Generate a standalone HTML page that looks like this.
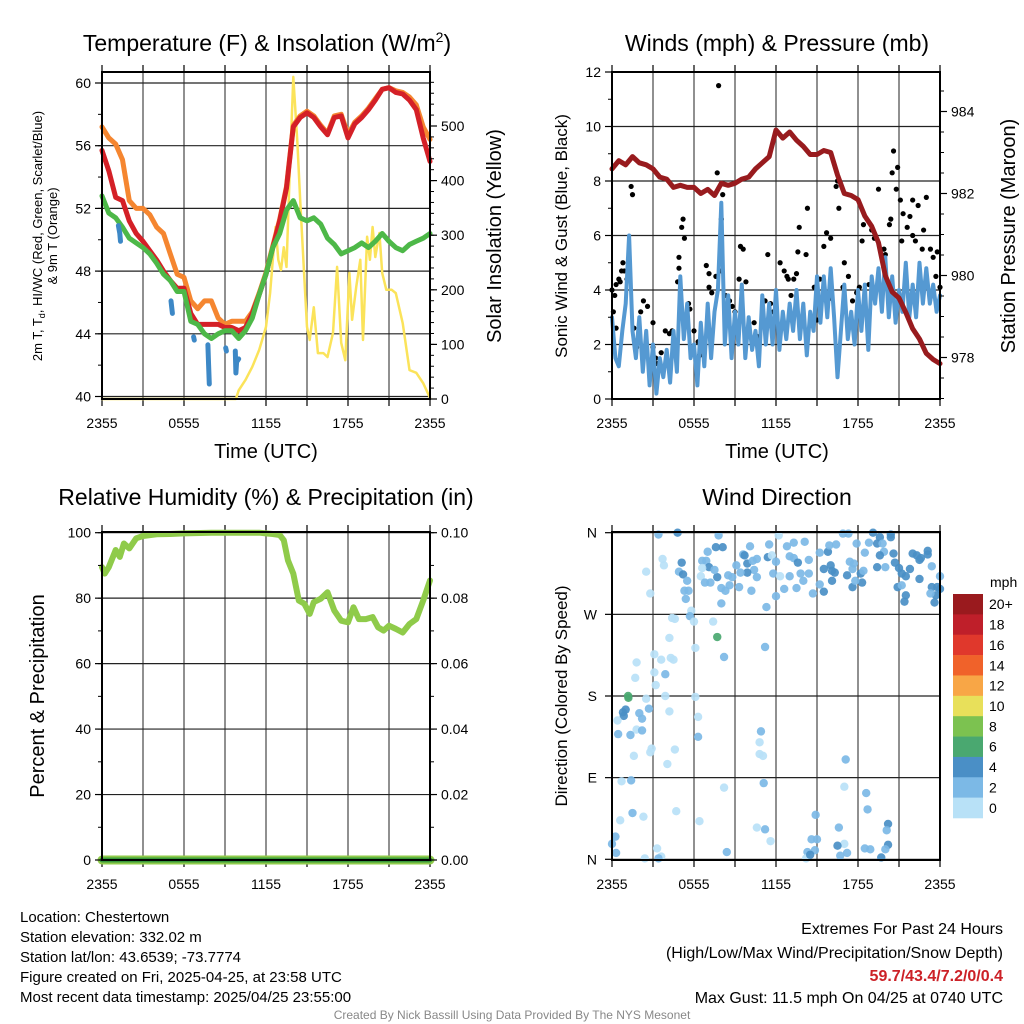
<!DOCTYPE html>
<html><head><meta charset="utf-8">
<style>
html,body{margin:0;padding:0;background:#fff;}
svg{display:block;font-family:"Liberation Sans",Arial,sans-serif;}
</style></head>
<body>
<svg id="chart" width="1024" height="1024" viewBox="0 0 1024 1024" xmlns="http://www.w3.org/2000/svg">
<rect x="0" y="0" width="1024" height="1024" fill="#fff"/>
<g id="layer"></g>
<!-- titles -->
<text x="267" y="51" font-size="23" text-anchor="middle">Temperature (F) &amp; Insolation (W/m<tspan font-size="14" dy="-9">2</tspan><tspan dy="9">)</tspan></text>
<text x="777" y="51" font-size="23" text-anchor="middle">Winds (mph) &amp; Pressure (mb)</text>
<text x="266" y="505" font-size="23" text-anchor="middle">Relative Humidity (%) &amp; Precipitation (in)</text>
<text x="777" y="505" font-size="23" text-anchor="middle">Wind Direction</text>
<!-- axis titles -->
<text x="266" y="458" font-size="20" text-anchor="middle">Time (UTC)</text>
<text x="777" y="458" font-size="20" text-anchor="middle">Time (UTC)</text>
<text transform="translate(42,236) rotate(-90)" font-size="13" text-anchor="middle">2m T, T<tspan font-size="9" dy="3">d</tspan><tspan dy="-3">, HI/WC (Red, Green, Scarlet/Blue)</tspan></text>
<text transform="translate(57,236) rotate(-90)" font-size="13" text-anchor="middle">&amp; 9m T (Orange)</text>
<text transform="translate(501,236) rotate(-90)" font-size="20" text-anchor="middle">Solar Insolation (Yellow)</text>
<text transform="translate(567,236) rotate(-90)" font-size="17" text-anchor="middle">Sonic Wind &amp; Gust (Blue, Black)</text>
<text transform="translate(1015,236) rotate(-90)" font-size="20" text-anchor="middle">Station Pressure (Maroon)</text>
<text transform="translate(44,696) rotate(-90)" font-size="20" text-anchor="middle">Percent &amp; Precipitation</text>
<text transform="translate(567,696) rotate(-90)" font-size="17" text-anchor="middle">Direction (Colored By Speed)</text>
<!-- footer -->
<g font-size="15">
<text x="20" y="922">Location: Chestertown</text>
<text x="20" y="942">Station elevation: 332.02 m</text>
<text x="20" y="962">Station lat/lon: 43.6539; -73.7774</text>
<text x="20" y="982">Figure created on Fri, 2025-04-25, at 23:58 UTC</text>
<text x="20" y="1002">Most recent data timestamp: 2025/04/25 23:55:00</text>
</g>
<g font-size="16" text-anchor="end">
<text x="1003" y="934">Extremes For Past 24 Hours</text>
<text x="1003" y="958">(High/Low/Max Wind/Precipitation/Snow Depth)</text>
<text x="1003" y="981" fill="#cc2127" font-weight="bold">59.7/43.4/7.2/0/0.4</text>
<text x="1003" y="1003">Max Gust: 11.5 mph On 04/25 at 0740 UTC</text>
</g>
<text x="512" y="1019" font-size="12" fill="#888" text-anchor="middle">Created By Nick Bassill Using Data Provided By The NYS Mesonet</text>
</svg>
<script>
// ===== Temperature panel data (hours since 2355 UTC, half-hourly) =====
const tempHours = [0,0.5,1,1.5,2,2.5,3,3.5,4,4.5,5,5.5,6,6.5,7,7.5,8,8.5,9,9.5,10,10.5,11,11.5,12,12.5,13,13.5,14,14.5,15,15.5,16,16.5,17,17.5,18,18.5,19,19.5,20,20.5,21,21.5,22,22.5,23,23.5,24];
const temp2m = [55.7,54.4,52.7,52.5,51.2,50.4,49.9,49.3,48.7,48.0,47.4,46.9,46.9,45.3,44.6,44.6,44.6,44.6,44.4,44.4,44.2,44.4,45.3,46.5,47.8,49.5,51.2,53.3,57.2,57.8,58.1,57.8,57.2,56.7,57.8,57.9,56.5,57.4,57.8,58.3,58.9,59.6,59.7,59.4,59.3,58.9,58.3,56.5,55.0];
const temp9m = [57.2,56.5,56.1,55.1,52.5,52.0,52.0,51.6,50.8,50.4,49.1,47.8,47.6,46.1,45.6,46.1,46.1,45.0,44.6,44.8,44.8,44.8,45.4,46.6,47.9,49.6,51.3,53.4,57.3,57.9,58.2,57.9,57.3,56.8,57.9,58.0,56.7,57.5,57.9,58.4,59.0,59.6,59.7,59.5,59.4,59.1,58.6,57.2,56.4];
const dewpoint = [52.8,51.7,51.4,50.8,50.1,49.8,49.5,49.1,48.5,47.8,47.4,46.7,46.7,44.8,44.6,44.0,43.7,44.0,44.2,44.2,43.7,44.2,45.0,46.5,47.8,49.5,50.4,51.9,52.5,51.4,51.2,51.4,51.0,50.1,49.7,49.1,49.3,49.5,49.8,49.5,49.9,50.4,49.9,49.5,49.3,49.7,49.9,50.1,50.4];
const chillHours = [1.2,1.3,1.35, 5.05,5.1,5.15, 6.7,6.75, 7.75,7.8,7.85, 9.05,9.1, 9.75,9.8,9.85,10.0];
const chillTemps = [50.9,50.4,49.9, 46.1,45.7,45.3, 43.8,43.6, 43.3,42.0,40.8, 43.1,42.9, 42.9,41.5,42.2,42.4];
const chillSegs = [3,3,2,3,2,4];
const solarHours = [0,9.8,10,10.5,11,11.5,12,12.3,12.5,12.7,12.9,13.1,13.3,13.5,13.7,14,14.3,14.5,14.8,15,15.2,15.5,15.8,16.2,16.5,16.9,17.2,17.5,17.8,18.1,18.3,18.6,18.9,19.1,19.4,19.6,19.8,20,20.3,20.5,20.8,21.2,21.5,22,22.5,23,23.5,24];
const solarVals = [0,0,16,35,59,90,132,194,255,315,255,236,278,242,388,590,469,364,223,132,108,168,84,84,77,121,242,103,71,231,145,205,255,108,297,255,315,260,304,231,200,200,194,139,53,48,29,2];
const tempTicks = [40,44,48,52,56,60];
const solarTicks = [0,100,200,300,400,500];
const timeTickLabels = ["2355","0555","1155","1755","2355"];

// ===== Wind panel data =====
const windHours = [];
for (let i=0;i<=96;i++) windHours.push(i/4);
const windSpeed = [3.0,1.5,1.2,2.5, 3.5,6.0,2.5,1.5, 3.0,1.0,2.5,0.5, 2.0,0.2,1.5,0.8, 1.8,0.6,2.5,1.0, 4.5,2.2,3.5,1.5, 2.0,0.5,2.8,1.2, 3.5,1.5,3.2,4.0, 7.2,2.0,3.8,1.5, 3.2,2.0,4.2,1.5, 3.0,1.8,2.5,1.2, 3.8,2.0,3.5,2.0, 4.0,1.8,3.2,2.2, 3.5,2.5,4.0,2.2, 3.5,1.6,3.2,2.5, 4.5,2.8,4.5,3.0, 4.8,3.0,0.8,2.5, 4.2,2.2,3.2,2.0, 4.0,2.5,4.2,1.8, 4.5,3.5,4.8,3.2, 5.2,3.0,4.5,2.8, 4.0,3.2,5.0,3.0, 4.2,3.0,5.0,3.5, 4.8,3.5,4.2,3.2, 3.8];
const gustHours = [0.0,0.1,0.2,0.3,0.3,0.5,0.6,0.7,0.8,0.9,1.1,1.5,1.4,1.6,1.8,2.0,2.1,2.3,2.6,3.0,3.0,3.2,3.3,3.6,3.9,4.2,4.4,4.9,4.9,5.2,5.1,5.3,4.8,5.6,5.7,6.0,6.3,6.4,6.6,6.9,7.1,7.1,7.3,7.6,7.7,7.8,8.0,8.1,8.0,8.3,8.6,8.8,9.0,9.3,9.4,9.6,9.8,10.4,10.6,11.2,11.4,11.6,11.8,12.3,12.6,12.8,12.9,13.1,13.3,13.5,13.7,13.6,14.2,14.3,14.8,15.0,15.2,15.5,15.7,16.0,16.0,16.4,16.5,16.6,16.9,17.0,17.3,17.6,17.9,18.1,18.3,18.4,18.8,19.0,19.2,19.5,19.9,20.0,20.3,20.4,20.5,20.6,20.8,20.9,21.1,21.3,21.6,21.8,22.0,22.0,22.4,22.7,22.8,23.0,23.3,23.5,23.7,23.8,24.0,21.2,22.2];
const gustSpeed = [4.0,3.2,3.8,2.6,4.2,4.4,4.3,4.7,5.0,4.7,4.4,7.5,7.8,2.6,1.9,2.4,3.2,3.6,3.4,2.8,1.9,1.5,1.3,1.7,2.5,2.4,2.5,5.2,4.8,6.6,6.3,5.9,4.3,3.5,3.3,2.5,2.1,1.6,2.2,4.9,4.6,4.1,3.9,4.5,8.3,11.5,4.7,7.5,6.6,3.8,3.6,3.4,3.2,4.4,5.6,5.5,4.3,2.8,2.3,3.6,5.3,3.5,3.2,5.0,4.7,4.5,4.4,3.8,4.4,4.6,6.3,5.4,5.3,7.0,4.1,2.9,4.4,5.6,6.1,5.9,3.7,7.8,8.0,7.0,4.1,5.0,4.5,3.6,3.9,4.1,5.8,6.4,4.2,6.2,5.9,7.7,5.5,5.3,6.4,6.6,8.3,9.1,7.7,8.5,7.3,6.8,6.3,6.7,7.3,6.0,7.1,5.5,6.2,7.4,5.5,5.2,4.5,5.4,4.1,5.8,5.8];
const pressHours = tempHours;
const pressure = [982.6,982.8,982.7,982.9,982.75,982.7,982.6,982.4,982.35,982.15,982.2,982.15,982.15,982.0,982.1,981.95,982.25,982.2,982.25,982.35,982.4,982.6,982.75,982.9,983.55,983.35,983.5,983.3,983.15,982.95,982.95,983.05,983.0,982.45,982.0,981.95,981.85,981.45,981.2,980.8,980.0,979.6,979.45,979.1,978.7,978.45,978.1,977.95,977.85];
const windTicks = [0,2,4,6,8,10,12];
const pressTicks = [978,980,982,984];

// ===== Humidity panel data =====
const rhHours = [0,0.2,0.5,1,1.3,1.6,2,2.5,3,4,5,6,8,10,11.5,12,12.5,13,13.3,13.6,14,14.4,14.8,15.2,15.5,16,16.5,17,17.5,18,18.4,18.8,19.3,19.8,20.2,20.6,21,21.5,22,22.5,23,23.5,24];
const rhVals = [89.5,87.5,89.5,94.7,92.6,96.7,95.2,98.3,99.0,99.5,99.6,99.8,100,100,100,99.8,99.6,99.3,97.7,91.6,87.5,79.3,78.3,75.2,78.8,79.8,81.8,76.2,73.1,72.6,77.2,73.6,73.6,74.2,71.1,70.1,71.6,70.6,69.5,72.1,73.6,79.3,85.4];
const precipHours = [0,24];
const precipVals = [0,0];
const rhTicks = [0,20,40,60,80,100];
const precipTicks = ["0.00","0.02","0.04","0.06","0.08","0.10"];

// ===== Wind direction panel data =====
const dirHours = [3.4,4.8,3.7,3.8,2.5,5.1,4.9,5.2,5.5,2.8,5.3,5.6,5.4,7.8,7.6,8.1,7.0,6.6,6.9,7.1,6.6,6.5,6.8,7.2,7.7,7.5,8.0,8.3,8.0,8.6,8.5,8.8,9.1,9.3,9.6,9.7,9.9,10.1,10.3,10.6,10.4,9.9,9.4,10.2,10.6,11.5,11.4,11.7,12.0,11.8,12.2,12.8,13.0,13.3,13.3,13.6,13.8,14.0,14.1,14.4,14.4,13.5,12.6,12.0,11.3,12.3,13.0,15.2,15.8,15.9,16.4,15.5,16.0,16.1,16.3,16.1,15.2,15.5,14.7,16.9,17.3,17.9,17.4,17.7,17.6,17.2,18.2,18.3,17.6,17.8,18.4,18.5,18.8,19.1,19.4,19.6,19.8,19.9,19.6,19.4,20.0,20.4,20.4,20.6,20.7,21.0,21.2,21.8,22.0,22.3,22.5,22.6,23.1,23.1,22.5,21.5,20.9,21.2,21.5,21.4,23.4,24.0,23.4,23.8,24.0,23.7,23.6,23.3,
5.8,5.7,6.0,4.4,4.6,7.4,7.7,4.2,6.1,8.2,11.2,3.1,3.6,4.3,4.5,1.8,3.1,3.9,1.7,3.2,1.2,1.18,2.5,3.9,2.7,1.0,0.8,0.86,2.0,2.2,4.2,6.1,6.3,0.4,1.8,2.2,0.45,1.35,6.3,10.9,10.8,2.9,2.8,4.6,1.6,4.05,10.8,11.05,17.1,0.7,1.4,11.1,8.2,17.0,18.6,18.7,1.5,2.3,4.7,0.6,6.4,14.9,10.6,11.2,16.6,20.2,20.1,0.25,0.0,11.6,14.6,15.0,17.0,16.5,20.2,20.0,18.5,18.9,0.3,3.3,8.4,14.3,14.85,17.2,16.7,2.4,3.6,3.4,14.2,14.5,19.7];
const dirDegrees = [358,360,331,324,317,327,317,314,307,293,296,296,287,357,344,344,339,329,329,322,321,312,305,305,311,319,299,296,282,302,313,311,324,300,336,335,326,345,329,331,319,316,316,296,311,347,333,335,328,315,357,345,334,332,349,327,315,307,350,330,315,299,298,290,278,312,312,338,339,346,347,320,324,318,316,307,303,295,293,359,359,348,328,326,320,313,315,305,300,307,318,338,349,360,348,355,348,339,335,322,322,358,355,337,327,321,315,320,337,335,330,332,336,340,309,312,300,302,291,284,323,312,300,300,298,291,283,293,
274,268,262,266,265,262,245,244,233,223,234,226,220,222,220,217,206,204,200,192,178,180,177,180,166,165,162,158,161,155,163,179,157,153,143,142,138,137,135,141,129,122,118,121,114,105,116,114,110,86,87,84,79,80,73,55,51,47,53,43,42,49,35,33,35,39,32,25,17,20,22,22,17,15,16,11,12,11,7,12,8,8,10,7,4,1,3,1,1,5,2];
const dirSpeeds = [3,5,1,1,1,5,3,5,3,1,3,3,3,3,5,5,3,3,3,5,1,1,3,3,5,3,3,3,3,3,3,3,3,3,3,5,5,3,3,3,3,5,3,3,3,3,5,1,3,3,1,3,3,3,3,5,3,3,3,3,3,3,3,3,3,1,3,3,5,3,3,5,5,5,5,5,3,5,3,3,3,3,3,3,3,5,5,5,5,3,3,3,3,5,5,5,3,3,5,5,3,5,5,5,5,5,5,5,5,5,5,5,5,5,5,5,5,3,5,5,3,3,5,5,5,5,5,3,
1,3,1,1,1,1,7,1,1,3,3,1,1,1,1,1,1,3,1,1,7,7,1,1,3,5,5,5,3,3,1,1,1,1,1,3,3,3,3,3,1,1,1,1,1,1,1,1,3,1,3,3,1,1,3,3,3,1,1,1,1,3,1,3,3,5,3,3,3,1,3,3,1,5,5,3,3,3,3,1,3,3,3,3,3,1,1,3,1,5,5];
const dirTickLabels = ["N","E","S","W","N"];
const speedBinLabels = ["20+","18","16","14","12","10","8","6","4","2","0"];
const speedBinColors = ["#9a1a1e","#bf1f2a","#e0382c","#f0622a","#f8a646","#e8e05a","#7cc250","#4aa870","#4a8fc6","#7cb9e6","#b8e1f7"];

// ===== drawing =====
const NS = "http://www.w3.org/2000/svg";
const layer = document.getElementById("layer");
function mk(tag, attrs, parent) {
  const e = document.createElementNS(NS, tag);
  for (const k in attrs) e.setAttribute(k, attrs[k]);
  (parent || layer).appendChild(e);
  return e;
}
function lin(d0, d1, r0, r1) { return v => r0 + (v - d0) * (r1 - d0 === 0 ? 0 : (r1 - r0) / (d1 - d0)); }

const P1 = {l:102,r:430,t:72,b:399};
const P2 = {l:612,r:940,t:72,b:399};
const P3 = {l:102,r:430,t:532,b:860};
const P4 = {l:612,r:940,t:532,b:860};

function grid(P, name, hTicksPx) {
  const g = mk("g", {});
  
  
  const xs = lin(0, 24, P.l, P.r);
  for (let h = 3; h < 24; h += 3) {
    mk("line", {x1:xs(h), x2:xs(h), y1:P.t, y2:P.b, stroke:"#555", "stroke-width":1.3}, g);
  }
  hTicksPx.forEach(y => mk("line", {x1:P.l, x2:P.r, y1:y, y2:y, stroke:"#222", "stroke-width":1.2}, g));
  // x ticks top and bottom
  for (let h = 0; h <= 24; h += 3) {
    mk("line", {x1:xs(h), x2:xs(h), y1:P.b, y2:P.b+7, stroke:"#000", "stroke-width":1.2}, g);
    mk("line", {x1:xs(h), x2:xs(h), y1:P.t-7, y2:P.t, stroke:"#000", "stroke-width":1.2}, g);
  }
  return g;
}
function frame(P, name) {
  const r = mk("rect", {x:P.l, y:P.t, width:P.r-P.l, height:P.b-P.t, fill:"none", stroke:"#000", "stroke-width":2});
  
  
}
function xLabels(P, name, labels) {
  const xs = lin(0, 24, P.l, P.r);
  labels.forEach((s, i) => {
    const t = mk("text", {x:xs(i*6), y:P.b+29, "font-size":14, "text-anchor":"middle"});
    t.textContent = s;
    
    
  });
}
function yAxis(P, side, ticks, scale, minorStep, minorFrom, minorTo, fmt, name) {
  const x0 = side === "l" ? P.l : P.r;
  const dir = side === "l" ? -1 : 1;
  for (let v = minorFrom; v <= minorTo + 1e-9; v += minorStep) {
    const y = scale(v);
    if (y < P.t - 0.5 || y > P.b + 0.5) continue;
    mk("line", {x1:x0, x2:x0+dir*4, y1:y, y2:y, stroke:"#000", "stroke-width":1});
  }
  ticks.forEach((v, i) => {
    const y = scale(typeof v === "string" ? parseFloat(v) : v);
    mk("line", {x1:x0, x2:x0+dir*7, y1:y, y2:y, stroke:"#000", "stroke-width":1.2});
    const t = mk("text", {x:x0+dir*11, y:y+5, "font-size":14, "text-anchor": side === "l" ? "end" : "start"});
    t.textContent = fmt ? fmt(v) : v;
    
    
  });
}
function path(xsArr, ysArr, sx, sy, attrs, name) {
  let d = "";
  xsArr.forEach((h, i) => { d += (i ? "L" : "M") + sx(h).toFixed(1) + "," + sy(ysArr[i]).toFixed(1); });
  const p = mk("path", Object.assign({d:d, fill:"none", "stroke-linejoin":"round", "stroke-linecap":"round"}, attrs));
  
  
  return p;
}

// ---- Panel 1 ----
{
  const P = P1;
  const sx = lin(0, 24, P.l, P.r);
  const sy = lin(40, 60, 396.5, 83);
  const ss = lin(0, 500, 399, 126);
  grid(P, "temperature", tempTicks.map(sy));
  path(solarHours, solarVals, sx, ss, {stroke:"#fbe35a", "stroke-width":2.5}, "solar-insolation-line");
  path(tempHours, temp9m, sx, sy, {stroke:"#f58630", "stroke-width":5}, "temperature-9m-line");
  path(tempHours, temp2m, sx, sy, {stroke:"#d42027", "stroke-width":5}, "temperature-2m-line");
  path(tempHours, dewpoint, sx, sy, {stroke:"#4db848", "stroke-width":5}, "dewpoint-line");
  let k = 0;
  chillSegs.forEach((n, si) => {
    path(chillHours.slice(k, k+n), chillTemps.slice(k, k+n), sx, sy, {stroke:"#3d88c6", "stroke-width":5}, "wind-chill-segment");
    k += n;
  });
  frame(P, "temperature");
  yAxis(P, "l", tempTicks, sy, 2, 40, 60, null, "temperature-y");
  yAxis(P, "r", solarTicks, ss, 20, 0, 600, null, "solar-y");
  xLabels(P, "temperature", timeTickLabels);
}
// ---- Panel 2 ----
{
  const P = P2;
  const sx = lin(0, 24, P.l, P.r);
  const sy = lin(0, 12, 399, 72);
  const sp = lin(978, 984, 357.5, 111.5);
  grid(P, "wind", windTicks.map(sy));
  const gg = mk("g", {});
  
  
  gustHours.forEach((h, i) => {
    const c = mk("circle", {cx:sx(h), cy:sy(gustSpeed[i]), r:2.6, fill:"#000"}, gg);
    
    
  });
  path(windHours, windSpeed, sx, sy, {stroke:"#5599d2", "stroke-width":4}, "sonic-wind-line");
  path(pressHours, pressure, sx, sp, {stroke:"#981b1e", "stroke-width":5}, "pressure-line");
  frame(P, "wind");
  yAxis(P, "l", windTicks, sy, 1, 0, 12, null, "wind-y");
  yAxis(P, "r", pressTicks, sp, 0.5, 976.5, 985, null, "pressure-y");
  xLabels(P, "wind", timeTickLabels);
}
// ---- Panel 3 ----
{
  const P = P3;
  const sx = lin(0, 24, P.l, P.r);
  const sy = lin(0, 100, 860, 532.7);
  const sq = lin(0, 0.1, 860, 532.7);
  grid(P, "humidity", rhTicks.map(sy));
  path(rhHours, rhVals, sx, sy, {stroke:"#8fcb4a", "stroke-width":6}, "relative-humidity-line");
  path(precipHours, precipVals, sx, sq, {stroke:"#8fcb4a", "stroke-width":9}, "precipitation-line-bg");
  path(precipHours, precipVals, sx, sq, {stroke:"#3a9a3c", "stroke-width":5}, "precipitation-line");
  frame(P, "humidity");
  yAxis(P, "l", rhTicks, sy, 10, 0, 100, null, "humidity-y");
  yAxis(P, "r", precipTicks, sq, 0.01, 0, 0.1, null, "precip-y");
  xLabels(P, "humidity", timeTickLabels);
}
// ---- Panel 4 ----
{
  const P = P4;
  const sx = lin(0, 24, P.l, P.r);
  const sy = lin(0, 360, 859.3, 532.7);
  grid(P, "direction", [0,90,180,270,360].map(sy));
  const gg = mk("g", {});
  
  
  function colorFor(s) {
    let idx = Math.min(10, Math.floor(s / 2));
    return speedBinColors[10 - idx];
  }
  dirHours.forEach((h, i) => {
    const c = mk("circle", {cx:sx(h), cy:sy(dirDegrees[i]), r:4.2, fill:colorFor(dirSpeeds[i]), "fill-opacity":0.92}, gg);
    
    
  });
  frame(P, "direction");
  const dirTickVals = [0,90,180,270,360];
  dirTickVals.forEach((v, i) => {
    const y = sy(v);
    mk("line", {x1:P.l, x2:P.l-7, y1:y, y2:y, stroke:"#000", "stroke-width":1.2});
    const t = mk("text", {x:P.l-15, y:y+5, "font-size":14, "text-anchor":"end"});
    t.textContent = dirTickLabels[i];
    
    
  });
  xLabels(P, "direction", timeTickLabels);
  // colorbar
  const cb = mk("g", {});
  
  
  const top = 594, h = 224 / speedBinColors.length;
  speedBinColors.forEach((c, i) => {
    const r = mk("rect", {x:953, y:top + i*h, width:30, height:h+0.3, fill:c}, cb);
    
    
    const t = mk("text", {x:989, y:top + i*h + h/2 + 5, "font-size":14}, cb);
    t.textContent = speedBinLabels[i];
    
    
  });
  const u = mk("text", {x:990, y:587, "font-size":14}, cb);
  u.textContent = "mph";
  
  
}
</script>
</body></html>
